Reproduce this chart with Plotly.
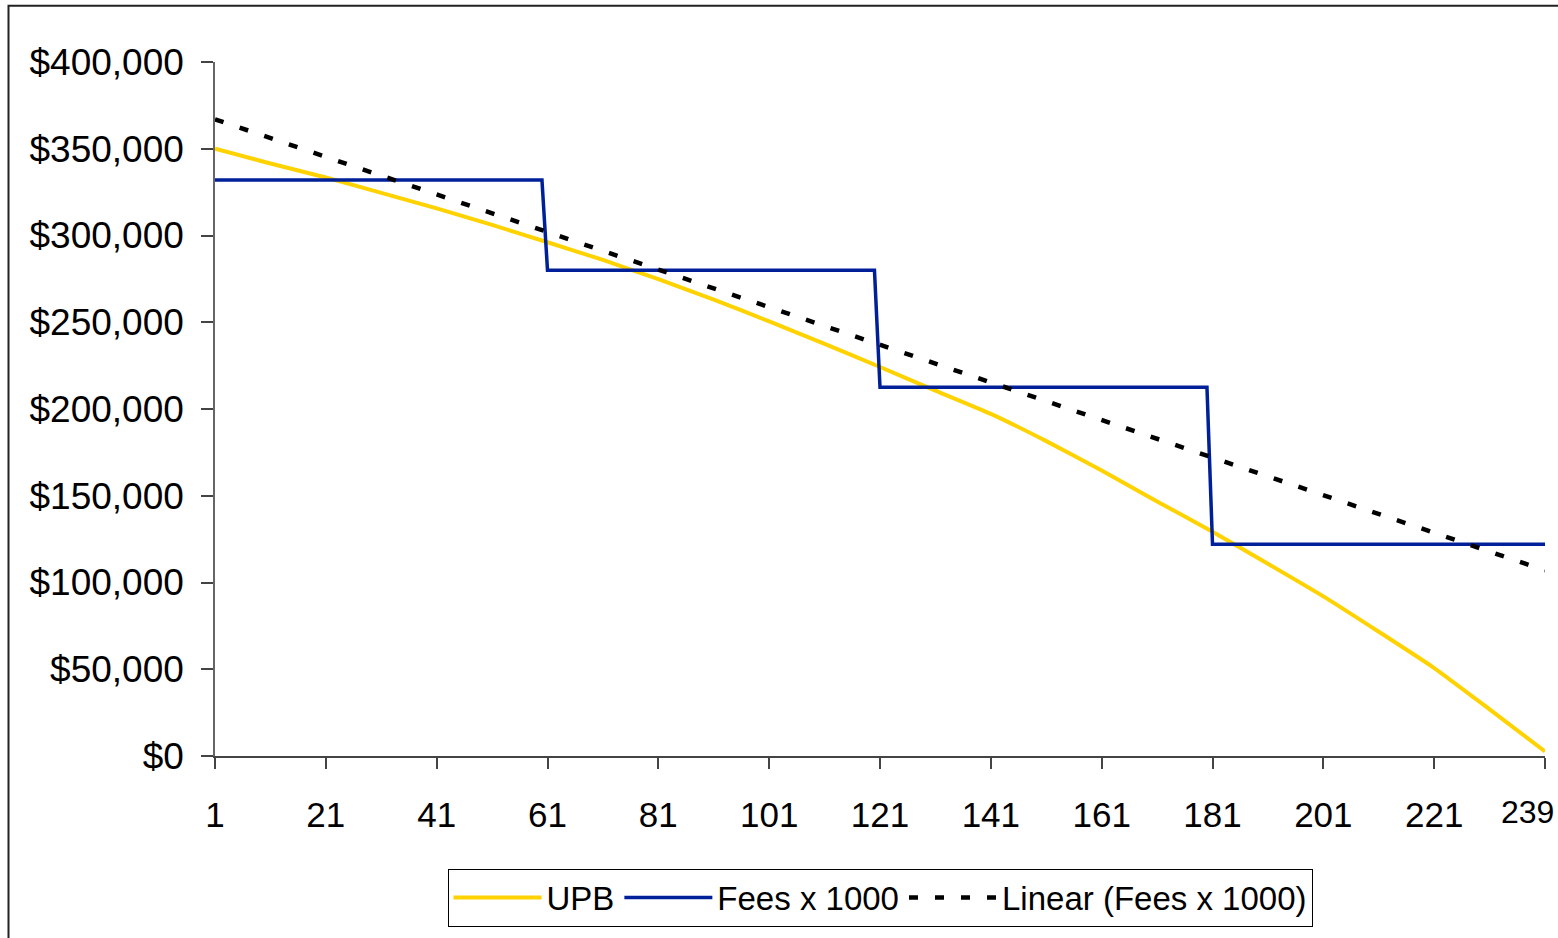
import plotly.graph_objects as go

# ---- data ----
upb_periods = [1, 11, 21, 31, 41, 51, 61, 71, 81, 91, 101, 111, 121,
               131, 141, 151, 161, 171, 181, 191, 201, 211, 221, 231, 241]
upb_values = [350000, 341500, 333400, 324600, 315600, 306100, 296100, 285900,
              274800, 263100, 250500, 237500, 224200, 210600, 197200, 181500,
              164500, 146700, 129300, 110800, 92000, 71600, 50700, 26900, 2600]

fee_periods = [1, 60, 61, 120, 121, 180, 181, 241]
fee_values = [332000, 332000, 280000, 280000, 212500, 212500, 122000, 122000]

trend_periods = [1, 241]
trend_values = [367000, 107000]

x_tick_vals = [1, 21, 41, 61, 81, 101, 121, 141, 161, 181, 201, 221, 241]
x_tick_labels = ["1", "21", "41", "61", "81", "101", "121", "141", "161",
                 "181", "201", "221", "239"]
y_tick_vals = [0, 50000, 100000, 150000, 200000, 250000, 300000, 350000, 400000]
y_tick_labels = ["$0", "$50,000", "$100,000", "$150,000", "$200,000",
                 "$250,000", "$300,000", "$350,000", "$400,000"]

series_names = ["UPB", "Fees x 1000", "Linear (Fees x 1000)"]

# ---- layout geometry (pixels) ----
W, H = 1558, 938
L, R, T, B = 215, 1545, 62, 759
FONT = "Liberation Sans, Arial, sans-serif"

fig = go.Figure()
fig.add_trace(go.Scatter(x=upb_periods, y=upb_values, mode="lines",
                         name=series_names[0],
                         line=dict(color="#FFD200", width=4, shape="spline", smoothing=0.5)))
fig.add_trace(go.Scatter(x=fee_periods, y=fee_values, mode="lines",
                         name=series_names[1],
                         line=dict(color="#00209A", width=3.5)))
fig.add_trace(go.Scatter(x=trend_periods, y=trend_values, mode="lines",
                         name=series_names[2],
                         line=dict(color="black", width=4.5, dash="9px,17px")))

def px_x(p):
    return (p - L) / (R - L)

def px_y(p):
    return (B - p) / (B - T)

fig.update_layout(
    width=W, height=H,
    margin=dict(l=L, r=W - R, t=T, b=H - B, pad=0),
    paper_bgcolor="white", plot_bgcolor="white",
    font=dict(family=FONT, color="black"),
    showlegend=True,
    legend=dict(orientation="h", x=0.5, xanchor="center",
                y=px_y(872), yanchor="top",
                font=dict(size=33, family=FONT, color="black"),
                bordercolor="black", borderwidth=1, bgcolor="white",
                itemwidth=88, tracegroupgap=0),
    shapes=[dict(type="rect", xref="paper", yref="paper",
                 x0=px_x(8.5), x1=px_x(1600), y0=px_y(1000), y1=px_y(5.5),
                 line=dict(color="#222222", width=2), fillcolor="rgba(0,0,0,0)",
                 layer="below")],
    annotations=[dict(xref="x", yref="paper", x=x_tick_vals[-1], y=px_y(815),
                      xanchor="right", yanchor="middle", xshift=11,
                      text=x_tick_labels[-1], showarrow=False,
                      font=dict(size=32, family=FONT, color="black"))],
)

fig.update_xaxes(range=[1, 241], tickmode="array", tickvals=x_tick_vals,
                 ticktext=x_tick_labels[:-1] + [""], showgrid=False, zeroline=False,
                 showline=True, linecolor="#444444", linewidth=1.5,
                 ticks="outside", ticklen=11, tickcolor="#444444", tickwidth=1.5,
                 tickfont=dict(size=35, family=FONT, color="black"),
                 ticklabelstandoff=16)
fig.update_yaxes(range=[0, 400000], tickmode="array", tickvals=y_tick_vals,
                 ticktext=y_tick_labels, showgrid=False, zeroline=False,
                 showline=True, linecolor="#666666", linewidth=1.5,
                 ticks="outside", ticklen=12, tickcolor="#444444", tickwidth=1.5,
                 tickfont=dict(size=37, family=FONT, color="black"),
                 ticklabelstandoff=10)

fig.write_html("out.html", config={"displayModeBar": False},
               post_script="document.body.style.margin='0';document.body.style.overflow='hidden';")
